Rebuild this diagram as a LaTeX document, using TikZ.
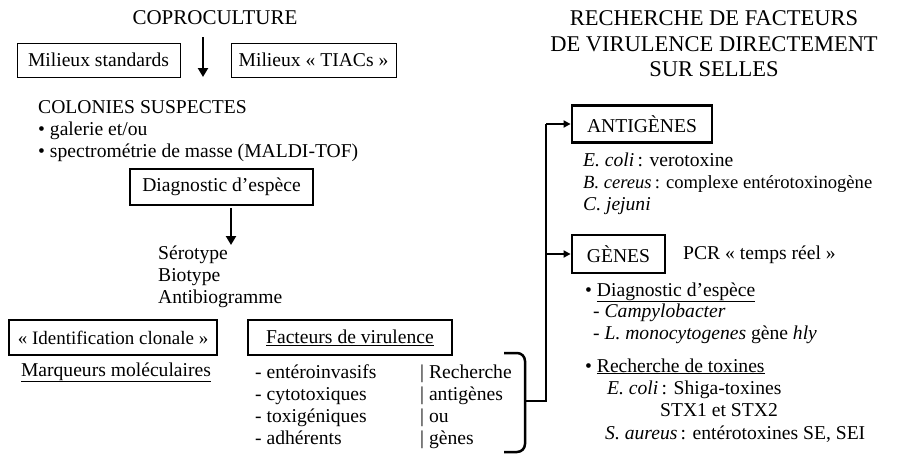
\documentclass[tikz,border=0pt]{standalone}
\usepackage{fontspec}
\setmainfont{Liberation Serif}
\usetikzlibrary{arrows.meta}
\newcommand{\fsz}{\fontsize{19.6}{22}\selectfont}
\begin{document}
\begin{tikzpicture}[x=1pt,y=-1pt,
  txt/.style={anchor=base west,inner sep=0pt,font=\fsz},
  ctr/.style={anchor=base,inner sep=0pt,font=\fsz},
  thinbox/.style={draw,line width=1pt,minimum width=#1,minimum height=34pt,inner sep=0pt,font=\fsz},
  thickbox/.style={draw,line width=2.8pt,minimum width=#1,minimum height=35pt,inner sep=0pt,font=\fsz},
  bigarrow/.style={line width=2.8pt,-{Triangle[width=10pt,length=9pt]}},
  link/.style={line width=2pt},
  linkarrow/.style={line width=2pt,-{Triangle[width=7pt,length=7pt]}}
]
\useasboundingbox (0,0) rectangle (899,455);
% left title
\node[ctr,font=\fontsize{21}{24}\selectfont] (t1) at (215,24) {COPROCULTURE};
\node[thinbox=163pt] (ms) at (98.5,60) {Milieux standards};
\node[thinbox=165pt] (tiac) at (313.5,60) {Milieux « TIACs »};
\coordinate (a1s) at (203,37);
\coordinate (a1e) at (203,77);
\draw[bigarrow] (a1s) -- (a1e);
\node[txt] (col) at (38,113) {COLONIES SUSPECTES};
\node[txt] (gal) at (38,135) {• galerie et/ou};
\node[txt] (spe) at (38,157) {• spectrométrie de masse (MALDI-TOF)};
\node[thickbox=183pt,minimum height=36pt] (diag) at (221.5,187) {Diagnostic d’espèce};
\coordinate (a2s) at (231,208);
\coordinate (a2e) at (231,245);
\draw[bigarrow] (a2s) -- (a2e);
\node[txt] (ser) at (158,259) {Sérotype};
\node[txt] (bio) at (158,281) {Biotype};
\node[txt] (ati) at (158,303) {Antibiogramme};
\node[thickbox=208pt,font=\fontsize{19}{22}\selectfont] (idc) at (113,337.5) {« Identification clonale »};
\node[thickbox=204pt] (fv) at (350,337.5) {\underline{Facteurs de virulence}};
\node[ctr] (mm) at (116,376) {\underline{Marqueurs moléculaires}};
\node[txt] (l1) at (255,378) {- entéroinvasifs};
\node[txt] (l2) at (255,400) {- cytotoxiques};
\node[txt] (l3) at (255,422) {- toxigéniques};
\node[txt] (l4) at (255,444) {- adhérents};
\node[txt] (r1) at (420,378) {| Recherche};
\node[txt] (r2) at (420,400) {| antigènes};
\node[txt] (r3) at (420,422) {| ou};
\node[txt] (r4) at (420,444) {| gènes};
% brace
\coordinate (b1) at (504,353);
\coordinate (b2) at (525,353);
\coordinate (b3) at (525,452);
\coordinate (b4) at (504,452);
\draw[line width=2.5pt,rounded corners=8pt] (b1) -- (b2) -- (b3) -- (b4);
\coordinate (bm) at (525,401);
\coordinate (jn) at (546,401);
% right title
\node[ctr,font=\fontsize{22.5}{26}\selectfont] (t2) at (714,25) {RECHERCHE DE FACTEURS};
\node[ctr,font=\fontsize{22.5}{26}\selectfont] (t3) at (714,51) {DE VIRULENCE DIRECTEMENT};
\node[ctr,font=\fontsize{22.5}{26}\selectfont] (t4) at (714,76) {SUR SELLES};
\node[thickbox=140pt,minimum height=37pt] (ant) at (642,124) {ANTIGÈNES};
\node[thickbox=93pt,minimum height=38pt] (gen) at (618.5,254) {GÈNES};
\coordinate (ja) at (546,124);
\coordinate (jg) at (546,254);
\draw[link] (bm) -- (jn) -- (ja);
\draw[linkarrow] (ja) -- (ant.west);
\draw[linkarrow] (jg) -- (gen.west);
\node[txt] (e1) at (583,166) {\textit{E. coli}\,: verotoxine};
\node[txt,font=\fontsize{18.6}{22}\selectfont] (e2) at (583,188) {\textit{B. cereus}\,: complexe entérotoxinogène};
\node[txt] (e3) at (583,210) {\textit{C. jejuni}};
\node[txt] (pcr) at (683,259) {PCR « temps réel »};
\node[txt] (d1) at (585,296) {• \underline{Diagnostic d’espèce}};
\node[txt] (d2) at (593,317) {- \textit{Campylobacter}};
\node[txt] (d3) at (593,339) {- \textit{L. monocytogenes} gène \textit{hly}};
\node[txt] (rt) at (585,372) {• \underline{Recherche de toxines}};
\node[txt] (rt1) at (607,394) {\textit{E. coli}\,: Shiga-toxines};
\node[txt] (rt2) at (660,416) {STX1 et STX2};
\node[txt] (rt3) at (605,439) {\textit{S. aureus}\,: entérotoxines SE, SEI};
\end{tikzpicture}
\end{document}
